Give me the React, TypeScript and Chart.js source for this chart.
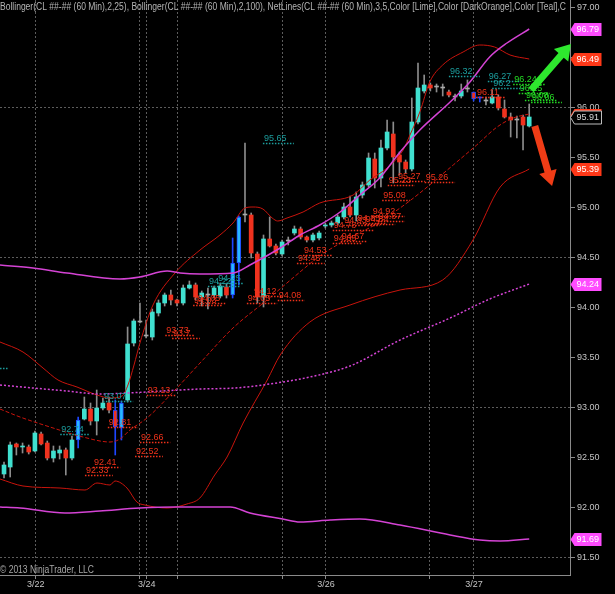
import React, { useEffect, useRef } from 'react';
import { Chart, registerables } from 'chart.js';
Chart.register(...registerables);

// ---------- candles (60 min bars) ----------
const opens = [92.34, 92.41, 92.64, 92.61, 92.61, 92.57, 92.74, 92.65, 92.50, 92.55,
  92.58, 92.50, 92.68, 92.89, 92.99, 92.87, 93.00, 93.05, 92.98, 92.80,
  93.08, 93.65, 93.86, 93.72, 93.71, 93.95, 94.05, 94.13, 94.08, 94.05,
  94.20, 94.23, 94.11, 94.13, 94.13, 94.12, 94.21, 94.13, 94.45, 94.93,
  94.93, 94.54, 94.11, 94.69, 94.62, 94.54, 94.67, 94.75, 94.79, 94.71,
  94.68, 94.70, 94.82, 94.83, 94.85, 94.91, 95.01, 94.93, 95.13, 95.23,
  95.49, 95.30, 95.60, 95.74, 95.53, 95.46, 95.39, 95.86, 96.17, 96.23,
  96.21, 96.20, 96.16, 96.11, 96.12, 96.19, 96.16, 96.10, 96.07, 96.05,
  96.11, 95.99, 95.91, 95.88, 95.91, 95.82];
const highs = [92.46, 92.66, 92.65, 92.65, 92.63, 92.77, 92.76, 92.67, 92.62, 92.62,
  92.60, 92.72, 92.91, 93.11, 93.05, 93.18, 93.10, 93.11, 93.08, 93.07,
  93.81, 93.89, 94.05, 93.88, 93.99, 94.08, 94.15, 94.18, 94.09, 94.23,
  94.27, 94.25, 94.17, 94.20, 94.22, 94.25, 94.24, 94.70, 94.92, 95.65,
  94.95, 94.56, 94.73, 94.91, 94.64, 94.68, 94.71, 94.82, 94.81, 94.72,
  94.75, 94.77, 94.85, 94.87, 94.93, 95.05, 95.12, 95.16, 95.26, 95.55,
  95.55, 95.68, 95.88, 95.86, 95.56, 95.48, 96.10, 96.45, 96.33, 96.25,
  96.24, 96.24, 96.18, 96.14, 96.24, 96.28, 96.16, 96.11, 96.11, 96.18,
  96.13, 96.08, 95.95, 95.92, 95.93, 96.04];
const lows = [92.30, 92.31, 92.53, 92.55, 92.54, 92.56, 92.63, 92.48, 92.46, 92.49,
  92.33, 92.48, 92.60, 92.88, 92.83, 92.73, 92.98, 92.95, 92.53, 92.68,
  93.06, 93.62, 93.85, 93.70, 93.68, 93.92, 94.02, 94.03, 94.02, 94.03,
  94.19, 94.08, 94.02, 93.99, 94.10, 94.10, 94.10, 94.10, 94.23, 94.86,
  94.50, 94.05, 94.01, 94.61, 94.53, 94.52, 94.63, 94.73, 94.69, 94.66,
  94.66, 94.68, 94.80, 94.81, 94.83, 94.89, 94.91, 94.87, 95.10, 95.21,
  95.20, 95.21, 95.58, 95.25, 95.33, 95.35, 95.37, 95.84, 96.15, 96.17,
  96.16, 96.12, 96.11, 96.07, 96.10, 96.16, 96.07, 96.06, 96.03, 96.04,
  95.98, 95.90, 95.71, 95.70, 95.58, 95.81];
const closes = [92.43, 92.63, 92.61, 92.62, 92.56, 92.75, 92.64, 92.50, 92.57, 92.58,
  92.50, 92.68, 92.88, 92.99, 92.87, 93.00, 93.05, 92.98, 92.81, 93.05,
  93.64, 93.87, 93.86, 93.72, 93.96, 94.05, 94.13, 94.08, 94.05, 94.20,
  94.23, 94.11, 94.15, 94.13, 94.20, 94.22, 94.13, 94.45, 94.91, 94.93,
  94.55, 94.11, 94.69, 94.62, 94.55, 94.66, 94.67, 94.79, 94.71, 94.68,
  94.73, 94.75, 94.83, 94.85, 94.91, 95.01, 94.93, 95.11, 95.23, 95.50,
  95.30, 95.60, 95.76, 95.51, 95.46, 95.39, 95.86, 96.20, 96.23, 96.20,
  96.21, 96.20, 96.13, 96.11, 96.17, 96.19, 96.09, 96.10, 96.07, 96.11,
  96.00, 95.91, 95.88, 95.88, 95.83, 95.91];
const blueBars = [12, 19, 37, 38];
const blueOutlineBars = [18, 76];
const blueCrossBars = [77];

// ---------- Bollinger bands: [bar index, price] ----------
const bb25Upper = [[-0.65, 93.66], [3.07, 93.56], [6.31, 93.40], [8.74, 93.28], [11.81, 93.21], [15.05, 93.13],
  [17.15, 93.10], [19.1, 93.12], [20.06, 93.23], [21.04, 93.43], [22.0, 93.65], [24.11, 94.03], [27.67, 94.35],
  [31.72, 94.58], [34.95, 94.73], [37.06, 94.85], [39.0, 95.00], [40.3, 95.01], [41.9, 94.99], [43.4, 94.90],
  [44.3, 94.87], [45.8, 94.90], [48.4, 94.96], [51.1, 95.05], [56.5, 95.13], [59.2, 95.28], [62.0, 95.40],
  [64.6, 95.58], [65.7, 95.73], [67.3, 95.96], [68.9, 96.26], [71.0, 96.43], [74.3, 96.56], [77.0, 96.63],
  [79.4, 96.61], [81.9, 96.53], [85.0, 96.49]];
const bb25Middle = [[-0.65, 92.99], [2.59, 92.91], [7.44, 92.81], [12.78, 92.71], [17.15, 92.66], [18.77, 92.69],
  [20.39, 92.78], [23.14, 92.90], [27.67, 93.18], [31.72, 93.45], [37.06, 93.80], [42.56, 94.08], [47.9, 94.36],
  [51.1, 94.52], [56.5, 94.72], [60.0, 94.83], [64.1, 95.00], [67.3, 95.15], [72.7, 95.43], [76.5, 95.63],
  [79.8, 95.81], [82.4, 95.90], [85.0, 95.94]];
const bb25Lower = [[-0.65, 92.29], [3.07, 92.22], [9.06, 92.20], [13.1, 92.18], [15.05, 92.25], [17.15, 92.23],
  [17.96, 92.27], [19.9, 92.20], [21.5, 92.06], [22.8, 92.03], [26.4, 92.00], [29.6, 92.04], [31.7, 92.10],
  [34.1, 92.33], [36.1, 92.51], [38.7, 92.85], [42.6, 93.28], [44.7, 93.53], [49.5, 93.86], [56.0, 94.03],
  [64.1, 94.18], [71.0, 94.28], [75.9, 94.68], [80.3, 95.21], [85.0, 95.39]];
const bb100Upper = [[-0.65, 94.43], [4.69, 94.40], [10.19, 94.35], [18.77, 94.29], [22.0, 94.31], [26.4, 94.37],
  [28.5, 94.35], [31.7, 94.34], [37.1, 94.35], [39.8, 94.43], [44.7, 94.60], [47.9, 94.73], [51.1, 94.83],
  [54.4, 94.96], [57.6, 95.13], [60.8, 95.30], [64.1, 95.56], [67.3, 95.78], [72.2, 96.06], [75.4, 96.26],
  [78.6, 96.51], [81.4, 96.65], [85.0, 96.79]];
const bb100Middle = [[-0.65, 93.23], [4.69, 93.20], [10.19, 93.17], [15.5, 93.14], [20.06, 93.15], [25.6, 93.17],
  [31.7, 93.19], [37.4, 93.20], [43.0, 93.24], [49.5, 93.31], [56.0, 93.42], [64.1, 93.68], [72.2, 93.90],
  [78.6, 94.09], [85.0, 94.24]];
const bb100Lower = [[-0.65, 92.01], [2.59, 92.00], [9.87, 91.95], [15.5, 91.97], [22.0, 92.00], [27.7, 92.01],
  [36.6, 92.01], [39.8, 91.95], [45.1, 91.89], [47.9, 91.86], [52.8, 91.88], [57.6, 91.89], [64.1, 91.83],
  [72.2, 91.73], [77.0, 91.68], [80.3, 91.67], [85.0, 91.69]];

// ---------- NetLines ----------
const redNetValues = [92.41, 92.33, 92.66, 92.52, 92.81, 93.13, 93.73, 93.70, 94.03, 94.05, 94.05, 94.12, 94.08,
  94.45, 94.53, 94.65, 94.67, 94.78, 94.83, 94.85, 94.84, 94.87, 94.92, 95.08, 95.23, 95.27, 95.26, 96.11];
const redNetStart = [14.4, 13.1, 22.0, 21.2, 16.8, 23.1, 26.1, 27.2, 30.6, 31.2, 39.3, 40.3, 44.3,
  47.4, 48.4, 53.2, 54.5, 53.2, 54.9, 57.1, 58.4, 60.5, 59.5, 61.2, 62.1, 63.6, 68.1, 76.4];
const redNetEnd = [18.8, 17.6, 26.9, 25.7, 21.7, 27.8, 30.9, 31.7, 35.3, 35.8, 44.2, 45.1, 48.7,
  51.9, 53.2, 57.9, 58.7, 60.0, 60.8, 61.7, 63.3, 64.9, 64.9, 65.7, 66.5, 68.1, 73.0, 81.1];
const tealNetValues = [93.40, 92.74, 93.07, 94.22, 94.25, 95.65, 96.32, 96.27, 96.20];
const tealNetStart = [-5.5, 9.1, 16.0, 33.0, 34.5, 41.9, 72.0, 78.3, 79.0];
const tealNetEnd = [0.65, 13.9, 20.9, 38.2, 38.7, 46.9, 77.0, 83.5, 84.3];
const limeNetValues = [96.24, 96.15, 96.08, 96.06];
const limeNetStart = [82.4, 83.3, 84.3, 85.3];
const limeNetEnd = [87.5, 88.3, 89.6, 90.3];

// ---------- arrows [x1, price1, x2, price2] ----------
const greenArrow = [85.3, 96.18, 91.75, 96.64];
const redArrow = [85.9, 95.82, 88.7, 95.22];

// ---------- axis ----------
const yTickValues = [91.5, 92.0, 92.5, 93.0, 93.5, 94.0, 94.5, 95.0, 95.5, 96.0, 96.5, 97.0];
const xTickValues = [5.13, 22.0, 23.1, 28.0, 45.1, 52.1, 68.9, 76.05];
const xTickLabels = ['3/22', '', '3/24', '', '', '3/26', '', '3/27'];

// ---------- right-axis price markers ----------
const markerValues = [96.79, 96.49, 95.93, 95.91, 95.39, 94.24, 91.69];
const markerKinds = ['m', 'r', 'r', 'k', 'r', 'm', 'm'];

const TITLE = 'Bollinger(CL ##-## (60 Min),2,25), Bollinger(CL ##-## (60 Min),2,100), NetLines(CL ##-## (60 Min),3,5,Color [Lime],Color [DarkOrange],Color [Teal],C';
const COPY = '\u00A9 2013 NinjaTrader, LLC';

const UP = '#40e0d0';
const DOWN = '#f0321e';
const WICK = '#8c8c8c';
const BLUE_EDGE = '#1e46ff';
const BLUE_FILL = '#28b8ff';
const BB25 = '#c8140c';
const BB100 = '#d443d4';
const RED_NET = '#f0321a';
const TEAL_NET = '#1c9e9e';
const LIME_NET = '#24dc24';
const FONT = 'Arial, "Liberation Sans", sans-serif';

const fmt = (v: number) => String(parseFloat(v.toFixed(2)));

function drawNet(ctx: any, xs: any, ys: any, values: number[], starts: number[], ends: number[], color: string) {
  ctx.strokeStyle = color;
  ctx.fillStyle = color;
  ctx.lineWidth = 1.5;
  ctx.setLineDash([1.5, 1.5]);
  ctx.font = '9px ' + FONT;
  ctx.textBaseline = 'alphabetic';
  ctx.textAlign = 'left';
  values.forEach((v, k) => {
    const py = Math.round(ys.getPixelForValue(v)) + 0.5;
    const x1 = xs.getPixelForValue(starts[k]);
    const x2 = xs.getPixelForValue(ends[k]);
    ctx.beginPath();
    ctx.moveTo(x1, py);
    ctx.lineTo(x2, py);
    ctx.stroke();
    ctx.fillText(fmt(v), x1 + 1, py - 3);
  });
  ctx.setLineDash([]);
}

function drawArrow(ctx: any, xs: any, ys: any, a: number[], color: string, shaft: number, head: number, headLen: number) {
  const x1 = xs.getPixelForValue(a[0]);
  const y1 = ys.getPixelForValue(a[1]);
  const x2 = xs.getPixelForValue(a[2]);
  const y2 = ys.getPixelForValue(a[3]);
  const ang = Math.atan2(y2 - y1, x2 - x1);
  const len = Math.hypot(x2 - x1, y2 - y1);
  ctx.save();
  ctx.translate(x1, y1);
  ctx.rotate(ang);
  ctx.beginPath();
  ctx.moveTo(0, -shaft / 2);
  ctx.lineTo(len - headLen, -shaft / 2);
  ctx.lineTo(len - headLen, -head / 2);
  ctx.lineTo(len, 0);
  ctx.lineTo(len - headLen, head / 2);
  ctx.lineTo(len - headLen, shaft / 2);
  ctx.lineTo(0, shaft / 2);
  ctx.closePath();
  ctx.fillStyle = color;
  ctx.fill();
  ctx.restore();
}

const overlay = {
  id: 'overlay',
  beforeDraw(chart: any) {
    const { ctx, width, height } = chart;
    ctx.save();
    ctx.fillStyle = '#000';
    ctx.fillRect(0, 0, width, height);
    ctx.restore();
  },
  afterDatasetsDraw(chart: any) {
    const { ctx, chartArea, scales } = chart;
    const xs = scales.x;
    const ys = scales.y;
    ctx.save();
    ctx.beginPath();
    ctx.rect(chartArea.left, chartArea.top, chartArea.right - chartArea.left, chartArea.bottom - chartArea.top);
    ctx.clip();
    drawNet(ctx, xs, ys, redNetValues, redNetStart, redNetEnd, RED_NET);
    drawNet(ctx, xs, ys, tealNetValues, tealNetStart, tealNetEnd, TEAL_NET);
    drawNet(ctx, xs, ys, limeNetValues, limeNetStart, limeNetEnd, LIME_NET);
    ctx.restore();
    ctx.save();
    drawArrow(ctx, xs, ys, greenArrow, '#2ee82e', 7, 19, 15);
    drawArrow(ctx, xs, ys, redArrow, '#f03c16', 7, 18, 15);
    ctx.restore();
  },
  afterDraw(chart: any) {
    const { ctx, chartArea, scales } = chart;
    const ys = scales.y;
    ctx.save();
    ctx.font = '10px ' + FONT;
    ctx.fillStyle = '#b4b4b4';
    ctx.textBaseline = 'middle';
    ctx.textAlign = 'left';
    ctx.fillText(TITLE, 0, 7, chartArea.right - 4);
    ctx.font = '10px ' + FONT;
    ctx.fillStyle = '#a8a8a8';
    ctx.fillText(COPY, 0, chartArea.bottom - 5, 94);
    // price markers
    ctx.font = '9px ' + FONT;
    markerValues.forEach((v, k) => {
      const kind = markerKinds[k];
      const py = Math.round(ys.getPixelForValue(v)) + 0.5;
      const x0 = chartArea.right + 0.5;
      const notch = 4, w = 27, h = 13;
      ctx.beginPath();
      ctx.moveTo(x0, py);
      ctx.lineTo(x0 + notch, py - h / 2);
      ctx.lineTo(x0 + notch + w, py - h / 2);
      ctx.lineTo(x0 + notch + w, py + h / 2);
      ctx.lineTo(x0 + notch, py + h / 2);
      ctx.closePath();
      if (kind === 'k') {
        ctx.fillStyle = '#000';
        ctx.fill();
        ctx.strokeStyle = '#bdbdbd';
        ctx.lineWidth = 1;
        ctx.stroke();
        ctx.fillStyle = '#d8d8d8';
      } else {
        ctx.fillStyle = kind === 'm' ? '#ff4cff' : '#ff3818';
        ctx.fill();
        ctx.fillStyle = '#ffffff';
      }
      ctx.textBaseline = 'middle';
      ctx.fillText(v.toFixed(2), x0 + notch + 2, py + 0.5);
    });
    ctx.restore();
  },
};

export default function App() {
  const ref = useRef<HTMLCanvasElement>(null);
  useEffect(() => {
    document.body.style.margin = '0';
    document.body.style.background = '#000';
    const idx = opens.map((_, i) => i);
    const isBlue = (i: number) => blueBars.includes(i);
    const isOutline = (i: number) => blueOutlineBars.includes(i);
    const isCross = (i: number) => blueCrossBars.includes(i);
    const bodyColors = idx.map(i => {
      if (isBlue(i)) return BLUE_FILL;
      if (isCross(i)) return BLUE_EDGE;
      if (closes[i] > opens[i]) return UP;
      if (closes[i] < opens[i]) return DOWN;
      return '#a8a8a8';
    });
    const bodyBorders = idx.map(i => (isBlue(i) || isOutline(i) ? BLUE_EDGE : 'rgba(0,0,0,0)'));
    const bodyBorderW = idx.map(i => (isBlue(i) || isOutline(i) ? 1 : 0));
    const wickColors = idx.map(i => (isBlue(i) || isOutline(i) || isCross(i) ? BLUE_EDGE : WICK));
    const pts = (arr: number[][]) => arr.map(([x, y]) => ({ x, y }));
    const line = (arr: number[][], color: string, width: number, dash: number[]) => ({
      type: 'line',
      data: pts(arr),
      borderColor: color,
      borderWidth: width,
      borderDash: dash,
      pointRadius: 0,
      cubicInterpolationMode: 'monotone',
      fill: false,
      order: 0,
    });
    const yGridColor = (c: any) => {
      const v = c.tick ? c.tick.value : 0;
      const r = (v - 91.5) / 1.5;
      return Math.abs(r - Math.round(r)) < 1e-6 ? '#5c5c5c' : 'rgba(0,0,0,0)';
    };
    const chart = new Chart(ref.current as HTMLCanvasElement, {
      type: 'bar',
      data: {
        datasets: [
          line(bb100Upper, BB100, 1.5, []),
          line(bb100Middle, BB100, 1.5, [2, 2]),
          line(bb100Lower, BB100, 1.5, []),
          line(bb25Upper, BB25, 1, []),
          line(bb25Middle, BB25, 1, [4, 2]),
          line(bb25Lower, BB25, 1, []),
          {
            type: 'bar',
            data: idx.map(i => ({ x: i, y: [opens[i], closes[i]] })),
            backgroundColor: bodyColors,
            borderColor: bodyBorders,
            borderWidth: bodyBorderW,
            borderSkipped: false,
            barThickness: 4,
            minBarLength: 1,
            grouped: false,
            order: 1,
          },
          {
            type: 'bar',
            data: idx.map(i => ({ x: i, y: [lows[i], highs[i]] })),
            backgroundColor: wickColors,
            borderWidth: 0,
            barThickness: 1,
            grouped: false,
            order: 2,
          },
        ] as any,
      },
      options: {
        responsive: false,
        devicePixelRatio: 1,
        animation: false,
        events: [],
        layout: { padding: 0 },
        plugins: { legend: { display: false }, tooltip: { enabled: false }, title: { display: false } },
        scales: {
          x: {
            type: 'linear',
            position: 'bottom',
            offset: false,
            min: -0.65,
            max: 91.6,
            afterBuildTicks: (s: any) => { s.ticks = xTickValues.map(v => ({ value: v })); },
            afterFit: (s: any) => { s.height = 19; s.paddingLeft = 0; s.paddingRight = 0; },
            grid: { offset: false, color: '#5c5c5c', tickColor: '#8a8a8a', tickLength: 4, lineWidth: 1 },
            border: { color: '#8a8a8a', width: 1, dash: [2, 2] },
            ticks: {
              autoSkip: false,
              maxRotation: 0,
              padding: 0,
              color: '#c4c4c4',
              font: { size: 9, family: FONT },
              callback: (_v: any, i: number) => xTickLabels[i] ?? '',
            },
          },
          y: {
            type: 'linear',
            position: 'right',
            min: 91.33,
            max: 97.08,
            afterBuildTicks: (s: any) => { s.ticks = yTickValues.map(v => ({ value: v })); },
            afterFit: (s: any) => { s.width = 45; s.paddingTop = 0; s.paddingBottom = 0; },
            grid: { color: yGridColor, tickColor: '#8a8a8a', tickLength: 5, lineWidth: 1 },
            border: { color: '#8a8a8a', width: 1, dash: [2, 2] },
            ticks: {
              padding: 2,
              color: '#c4c4c4',
              font: { size: 9, family: FONT },
              callback: (v: any) => Number(v).toFixed(2),
            },
          },
        },
      } as any,
      plugins: [overlay],
    });
    return () => chart.destroy();
  }, []);
  return (
    <div style={{ width: 615, height: 594, background: '#000' }}>
      <canvas ref={ref} width={615} height={594} style={{ display: 'block' }} />
    </div>
  );
}
